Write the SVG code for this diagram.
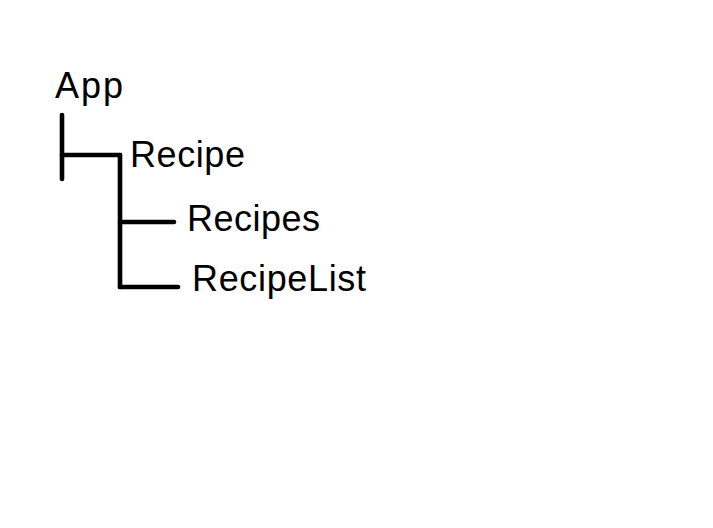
<svg xmlns="http://www.w3.org/2000/svg" width="713" height="528" viewBox="0 0 713 528">
<style>
.t{font-family:"Liberation Sans",Arial,sans-serif;font-size:36px;fill:#000}
.c{stroke:#000;stroke-width:4.6;fill:none;stroke-linecap:round}
</style>
<rect width="713" height="528" fill="#fff"/>
<g id="connectors">
<line class="c" x1="62" y1="115" x2="62" y2="179"/>
<line class="c" x1="62" y1="155" x2="120" y2="155"/>
<line class="c" x1="120" y1="155" x2="120" y2="287"/>
<line class="c" x1="120" y1="222" x2="174" y2="222"/>
<line class="c" x1="120" y1="287" x2="178" y2="287"/>
</g>
<g id="app"><text class="t" x="55" y="98" textLength="68">App</text></g>
<g id="recipe"><text class="t" x="130" y="167" textLength="115">Recipe</text></g>
<g id="recipes"><text class="t" x="187" y="231" textLength="133">Recipes</text></g>
<g id="recipelist"><text class="t" x="192" y="291" textLength="174">RecipeList</text></g>
</svg>
